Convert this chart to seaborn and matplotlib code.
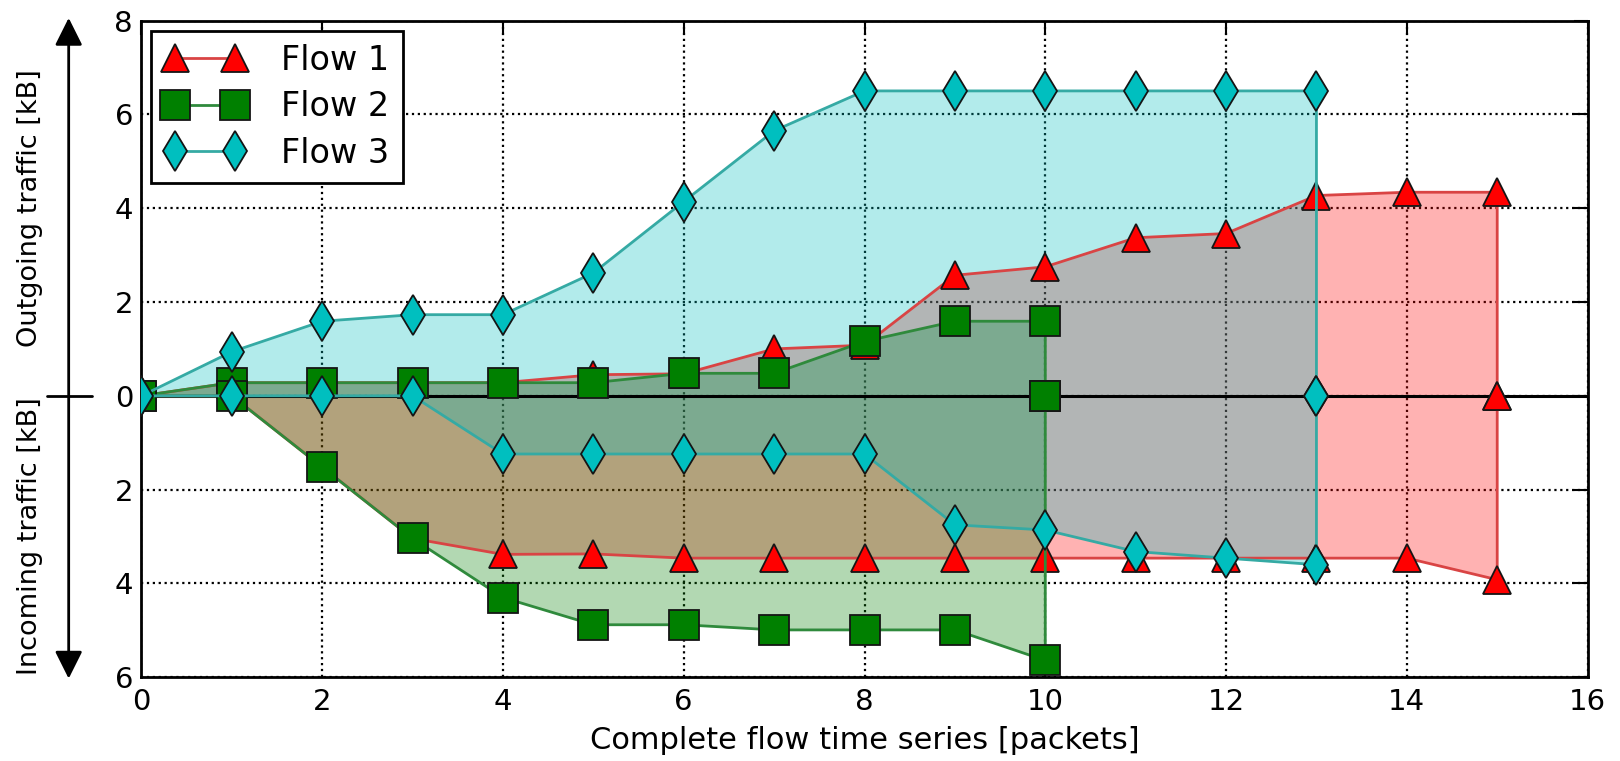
import numpy as np
import pandas as pd
import matplotlib
matplotlib.use("Agg")
import matplotlib.pyplot as plt
import matplotlib.transforms as mtransforms
from matplotlib.lines import Line2D
import seaborn as sns

# ── DATA ───────────────────────────────────────────────────
flow1_x = list(range(16))
flow1_out = [0, 0.28, 0.28, 0.28, 0.28, 0.45, 0.47, 1.0, 1.08, 2.57, 2.75, 3.37, 3.46, 4.27, 4.34, 4.34]
flow1_in = [0, 0, -1.52, -3.04, -3.38, -3.37, -3.46, -3.46, -3.46, -3.46, -3.46, -3.46, -3.46, -3.46, -3.46, -3.92]

flow2_x = list(range(11))
flow2_out = [0, 0.28, 0.28, 0.28, 0.28, 0.28, 0.48, 0.48, 1.16, 1.59, 1.59]
flow2_in = [0, 0, -1.52, -3.04, -4.3, -4.88, -4.88, -4.99, -4.99, -4.99, -5.64]

flow3_x = list(range(14))
flow3_out = [0, 0.94, 1.59, 1.73, 1.73, 2.62, 4.14, 5.65, 6.5, 6.5, 6.5, 6.5, 6.5, 6.5]
flow3_in = [0, 0, 0, 0, -1.24, -1.24, -1.24, -1.24, -1.24, -2.75, -2.86, -3.32, -3.46, -3.6]

flow_names = ["Flow 1", "Flow 2", "Flow 3"]
x_ticks = [0, 2, 4, 6, 8, 10, 12, 14, 16]
y_ticks = [-6, -4, -2, 0, 2, 4, 6, 8]
y_tick_labels = [str(abs(v)) for v in y_ticks]

# ── STYLE ──────────────────────────────────────────────────
sns.set_style("white")
plt.rcParams["font.family"] = ["DejaVu Sans"]
plt.rcParams["text.color"] = "black"
plt.rcParams["xtick.color"] = "black"
plt.rcParams["ytick.color"] = "black"
plt.rcParams["axes.labelcolor"] = "black"

flows = [
    dict(x=flow1_x, out=flow1_out, inn=flow1_in, face="#ff0000", line="#d94444", marker="^", ms=20),
    dict(x=flow2_x, out=flow2_out, inn=flow2_in, face="#008000", line="#2f8a3c", marker="s", ms=21),
    dict(x=flow3_x, out=flow3_out, inn=flow3_in, face="#00bfbf", line="#35aaa4", marker="d", ms=20),
]

fig, ax = plt.subplots(figsize=(16.2, 7.61), dpi=100)
fig.subplots_adjust(left=0.0873, right=0.980, bottom=0.110, top=0.973)

handles = []
for i, f in enumerate(flows):
    x = np.array(f["x"])
    ax.fill_between(x, f["out"], f["inn"], color=f["face"], alpha=0.3, linewidth=0, zorder=2 + i * 0.01)
    last = x[-1]
    for ys in (f["out"], f["inn"]):
        df = pd.DataFrame({"x": list(x) + [last], "y": list(ys) + [0]})
        sns.lineplot(data=df, x="x", y="y", ax=ax, sort=False, estimator=None,
                     color=f["line"], lw=2, marker=f["marker"], markersize=f["ms"],
                     markerfacecolor=f["face"], markeredgecolor="#151515",
                     markeredgewidth=1.3, legend=False, zorder=4 + i)
    handles.append(Line2D([], [], color=f["line"], lw=2, marker=f["marker"], markersize=f["ms"],
                          markerfacecolor=f["face"], markeredgecolor="#151515", markeredgewidth=1.3))

ax.axhline(0, color="black", lw=2.2, zorder=3.5)

ax.set_xlim(0, 16)
ax.set_ylim(-6, 8)
ax.set_xticks(x_ticks)
ax.set_yticks(y_ticks)
ax.set_yticklabels(y_tick_labels)
ax.grid(True, linestyle=":", color="black", linewidth=1.6)
ax.set_axisbelow(True)
ax.tick_params(direction="in", length=10, width=1.5, top=True, right=True,
               labelsize=21, color="black", labelcolor="black")
ax.tick_params(axis="x", pad=8)
ax.tick_params(axis="y", pad=6)
for sp in ax.spines.values():
    sp.set_linewidth(2)
    sp.set_color("black")

ax.set_xlabel("Complete flow time series [packets]", fontsize=22, labelpad=7)
ax.set_ylabel("")

# y-axis labels + double arrow on the left
trans = mtransforms.blended_transform_factory(ax.transAxes, ax.transData)
ax.text(-0.077, 4, "Outgoing traffic [kB]", transform=trans, rotation=90,
        ha="center", va="center", fontsize=19.5)
ax.text(-0.077, -3, "Incoming traffic [kB]", transform=trans, rotation=90,
        ha="center", va="center", fontsize=19.5)
ax.annotate("", xy=(-0.0503, 1.004), xytext=(-0.0503, -0.002), xycoords="axes fraction",
            arrowprops=dict(arrowstyle="<|-|>", color="black", lw=2, mutation_scale=42,
                            shrinkA=0, shrinkB=0), annotation_clip=False)
ax.plot([-0.065, -0.034], [0, 0], transform=trans, color="black", lw=2, clip_on=False)

leg = ax.legend(handles, flow_names, loc="upper left", numpoints=2, fontsize=24,
                handlelength=2.4, handletextpad=1.1, borderaxespad=0.3,
                fancybox=False, framealpha=1, edgecolor="black", borderpad=0.4,
                labelspacing=0.4)
leg.get_frame().set_linewidth(2)

plt.savefig("out.png", dpi=100)
